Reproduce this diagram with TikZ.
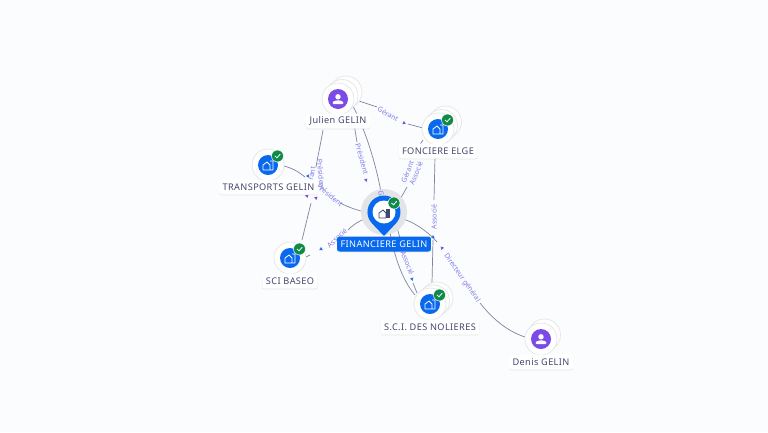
\documentclass[tikz,border=0pt]{standalone}
\usepackage{fontspec}
\setmainfont{Noto Sans}
\newfontfamily\tagfont[LetterSpace=4]{Noto Sans}
\usetikzlibrary{shadows}
\definecolor{pagebg}{HTML}{FBFCFE}
\definecolor{nodeblue}{HTML}{0868EE}
\definecolor{personviolet}{HTML}{7B4BE8}
\definecolor{checkgreen}{HTML}{0F8A47}
\definecolor{edgegrey}{HTML}{80849F}
\definecolor{edgetext}{HTML}{7F7CEB}
\definecolor{tipblue}{HTML}{2F6FEA}
\definecolor{tipviolet}{HTML}{7A4FDC}
\definecolor{nametext}{HTML}{43476E}
\definecolor{halogrey}{HTML}{E3E4E8}

\tikzset{
	disc/.style={circle,fill=white,draw=black!10,line width=.7pt,minimum size=32pt,inner sep=0pt},
	nametag/.style={rounded corners=2.5pt,fill=white,text=nametext,font=\tagfont\fontsize{9.2}{10}\selectfont,inner xsep=3.5pt,inner ysep=0pt,
		minimum height=15pt,drop shadow={shadow xshift=0pt,shadow yshift=-.8pt,opacity=.18}},
	edge/.style={edgegrey,line width=.7pt},
	edgelabel/.style={text=edgetext,font=\fontsize{7}{8}\selectfont,inner sep=0pt},
	badge/.style={circle,fill=checkgreen,draw=white,line width=.5pt,minimum size=12pt,inner sep=0pt},
}

% one company or person: coloured disc, icon, badge
\newcommand{\companydisc}[3]{%
	\node[disc,fill=nodeblue,minimum size=20pt,draw=none] (#1 icon) at (#2,#3) {};
	\draw[white,line width=.8pt,line join=round] (#2-5,#3+5) -- (#2-5,#3) -- (#2-1,#3-3) -- (#2+2,#3) -- (#2+2,#3+5) -- cycle
		(#2+2,#3-4) -- (#2+5,#3-4) -- (#2+5,#3+5) -- (#2+2,#3+5);
	\node[badge] (#1 check) at (#2+9.5,#3-9) {};
	\draw[white,line width=.8pt] (#2+7,#3-9) -- (#2+9,#3-7.2) -- (#2+12.2,#3-10.8);
}
\newcommand{\persondisc}[3]{%
	\node[disc,fill=personviolet,minimum size=20pt,draw=none] (#1 icon) at (#2,#3) {};
	\fill[white] (#2,#3-2.2) circle (2.7);
	\fill[white,rounded corners=1.2pt] (#2-5.5,#3+5) -- (#2-5.5,#3+2.8) -- (#2-2,#3+1.4) -- (#2+2,#3+1.4) -- (#2+5.5,#3+2.8) -- (#2+5.5,#3+5) -- cycle;
}

\begin{document}
\begin{tikzpicture}[x=1pt,y=-1pt]
	\path[use as bounding box,fill=pagebg] (0,0) rectangle (768,432);

	% Connectors
	\draw[edge] (354,124) -- (357,142);
	\draw[edge] (353,106) .. controls (365,130) and (375,160) .. (381,192);
	\draw[edge] (359,101) .. controls (365,103) and (371,105) .. (377,107);
	\draw[edge] (408,124) -- (423,128);
	\draw[edge] (323,130) .. controls (321,142) and (318,155) .. (316,167);
	\draw[edge] (311,203) -- (302,240);
	\draw[edge] (284,166) .. controls (292,168) and (299,172) .. (305,177);
	\draw[edge] (340,203) .. controls (350,208) and (360,211) .. (368,213);
	\draw[edge] (368,218) .. controls (360,220) and (354,224) .. (348,230);
	\draw[edge] (310,255) -- (304,258);
	\draw[edge] (423,140) -- (419,146);
	\draw[edge] (407,187) -- (398,203);
	\draw[edge] (435,157) -- (434,200);
	\draw[edge] (433,240) -- (432,283);
	\draw[edge] (400,218) .. controls (415,222) and (428,232) .. (437,242);
	\draw[edge] (480,303) .. controls (495,322) and (510,332) .. (525,337);
	\draw[edge] (390,232) .. controls (394,255) and (402,280) .. (415,295);
	\draw[edge] (397,227) -- (402,246);
	\draw[edge] (413,283) -- (417,293);

	% Arrow tips
	\foreach \ax/\ay/\aang in {366/180/75, 404/123/25, 307/196/80, 316/198/80, 442/248/-130}
	\fill[tipviolet] (\ax,\ay) ++(\aang:2) -- ++(\aang+150:3.5) -- ++(\aang+270:3.5) -- cycle;
	\foreach \ax/\ay/\aang in {308/176/-60, 321/249/150, 433/237/-90, 412/279/70}
	\fill[tipblue] (\ax,\ay) ++(\aang:2) -- ++(\aang+150:3.5) -- ++(\aang+270:3.5) -- cycle;

	% Labels on the connectors
	\node[edgelabel,rotate=-74] (president a) at (362,159) {Président};
	\node[edgelabel,rotate=-30] (gerant a) at (388,114) {Gérant};
	\node[edgelabel,rotate=80] (gerant b) at (311,178) {Gérant};
	\node[edgelabel,rotate=-85] (president c) at (321,175) {Président};
	\node[edgelabel,rotate=-40] (president b) at (330,195) {Président};
	\node[edgelabel,rotate=43] (associe a) at (337,238) {Associé};
	\node[edgelabel,rotate=68] (gerant c) at (407.5,172) {Gérant};
	\node[edgelabel,rotate=68] (associe b) at (416,173) {Associé};
	\node[edgelabel,rotate=90] (associe c) at (434,217) {Associé};
	\node[edgelabel,rotate=-55] (directeur) at (462,278) {Directeur général};
	\node[edgelabel,rotate=-68] (associe d) at (407.5,263) {Associé};

	% Discs with their stacks
	\foreach \sx/\sy in {346/92,342/95.5,338/99}
	\node[disc] at (\sx,\sy) {};
	\foreach \sx/\sy in {445.5/122,441.5/125.5,438/129}
	\node[disc] at (\sx,\sy) {};
	\foreach \sx/\sy in {437/298,433.5/301,430/304}
	\node[disc] at (\sx,\sy) {};
	\foreach \sx/\sy in {544.5/335,541/339}
	\node[disc] at (\sx,\sy) {};
	\node[disc] at (268,165) {};
	\node[disc] at (290,258) {};

	\persondisc{julien}{338}{99}
	\persondisc{denis}{541}{339}
	\companydisc{fonciere}{438}{129}
	\companydisc{transports}{268}{165}
	\companydisc{baseo}{290}{258}
	\companydisc{nolieres}{430}{304}

	% Central pin
	\fill[halogrey] (384,212) circle (23);
	\node[edgelabel,rotate=-78] (gerant d) at (383,202) {Gérant};
	\fill[nodeblue] (384,236) -- (372.3,223.7) arc (135:405:16.5) -- cycle;
	\node[circle,fill=white,minimum size=23pt,inner sep=0pt] (gelin disc) at (384,212) {};
	\draw[nametext,line width=.8pt,line join=round] (379,218) -- (379,213) -- (383,210) -- (386,213) -- (386,218) -- cycle;
	\fill[nametext] (386,209) -- (390,209) -- (390,218) -- (386,218) -- cycle;
	\node[badge] (gelin check) at (394,203) {};
	\draw[white,line width=.8pt] (391.5,203) -- (393.5,204.8) -- (396.7,201.2);

	% Names
	\node[nametag] (julien) at (338,121) {Julien GELIN};
	\node[nametag] (fonciere) at (438,151) {FONCIERE ELGE};
	\node[nametag] (transports) at (268.5,187) {TRANSPORTS GELIN};
	\node[nametag] (baseo) at (290,281) {SCI BASEO};
	\node[nametag] (nolieres) at (430,327) {S.C.I. DES NOLIERES};
	\node[nametag] (denis) at (541,362) {Denis GELIN};
	\node[nametag,fill=nodeblue,text=white] (gelin) at (384,244) {FINANCIERE GELIN};
\end{tikzpicture}
\end{document}
